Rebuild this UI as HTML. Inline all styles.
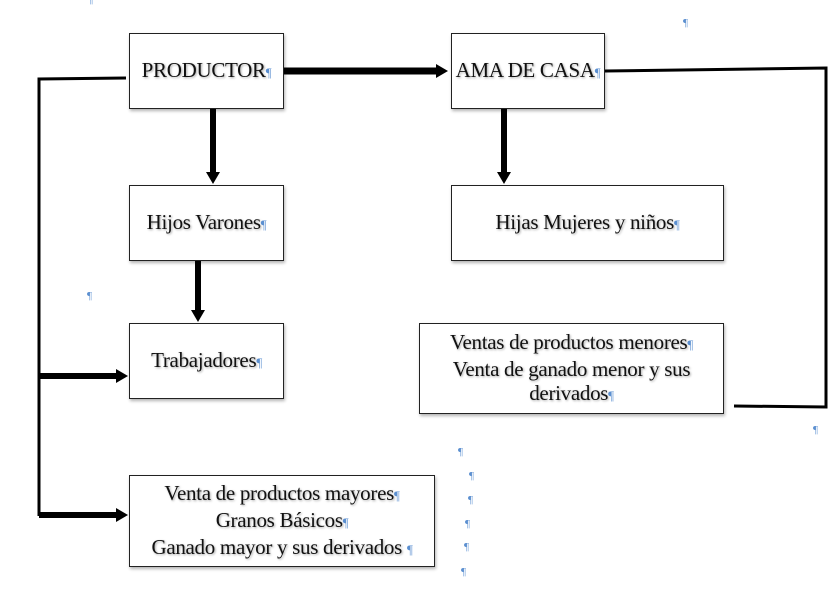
<!DOCTYPE html>
<html><head><meta charset="utf-8"><style>
body{margin:0;width:840px;height:589px;background:#fff;position:relative;overflow:hidden;font-family:"Liberation Serif",serif;}
.b{position:absolute;border:1.5px solid #222;box-sizing:border-box;box-shadow:1px 2px 3px rgba(0,0,0,.3);display:flex;align-items:center;justify-content:center;}
.t{text-align:center;font-size:21px;line-height:24px;color:#111;text-shadow:1px 1px 2px rgba(0,0,0,.35);letter-spacing:-0.3px;white-space:nowrap;}
.p{color:#5b8fd0;font-size:13px;text-shadow:none;}
.q{position:absolute;color:#5b8fd0;font-size:11px;}
svg{position:absolute;left:0;top:0;}
</style></head><body>
<svg width="840" height="589">
<defs><marker id="a" markerWidth="12" markerHeight="14" refX="4" refY="7" orient="auto" markerUnits="userSpaceOnUse"><path d="M0,0 L12,7 L0,14 z" fill="#000"/></marker></defs>
<g stroke="#000" fill="none">
<polyline points="126,78 39,79 39,516" stroke-width="3"/>
<line x1="283" y1="71" x2="440" y2="71" stroke-width="7" marker-end="url(#a)"/>
<polyline points="605,71 826,68 826,407 734,406" stroke-width="3"/>
<line x1="213" y1="108" x2="213" y2="176" stroke-width="6" marker-end="url(#a)"/>
<line x1="504" y1="108" x2="504" y2="176" stroke-width="6" marker-end="url(#a)"/>
<line x1="198" y1="261" x2="198" y2="314" stroke-width="6" marker-end="url(#a)"/>
<line x1="39" y1="376" x2="120" y2="376" stroke-width="6" marker-end="url(#a)"/>
<line x1="39" y1="515" x2="120" y2="515" stroke-width="6" marker-end="url(#a)"/>
</g></svg>
<div class="b" style="left:129px;top:33px;width:155px;height:76px"><div class="t">PRODUCTOR<span class="p">¶</span></div></div>
<div class="b" style="left:451px;top:33px;width:154px;height:76px"><div class="t">AMA DE CASA<span class="p">¶</span></div></div>
<div class="b" style="left:129px;top:185px;width:155px;height:76px"><div class="t">Hijos Varones<span class="p">¶</span></div></div>
<div class="b" style="left:451px;top:185px;width:273px;height:76px"><div class="t">Hijas Mujeres y niños<span class="p">¶</span></div></div>
<div class="b" style="left:129px;top:323px;width:155px;height:76px"><div class="t">Trabajadores<span class="p">¶</span></div></div>
<div class="b" style="left:419px;top:323px;width:305px;height:91px"><div class="t">Ventas de productos menores<span class="p">¶</span><br>Venta de ganado menor y sus<br>derivados<span class="p">¶</span></div></div>
<div class="b" style="left:129px;top:475px;width:306px;height:92px"><div class="t">Venta de productos mayores<span class="p">¶</span><br>Granos Básicos<span class="p">¶</span><br>Ganado mayor y sus derivados <span class="p">¶</span></div></div>
<span class="q" style="left:88px;top:-6px">¶</span>
<span class="q" style="left:683px;top:17px">¶</span>
<span class="q" style="left:87px;top:290px">¶</span>
<span class="q" style="left:813px;top:424px">¶</span>
<span class="q" style="left:458px;top:446px">¶</span>
<span class="q" style="left:469px;top:470px">¶</span>
<span class="q" style="left:468px;top:494px">¶</span>
<span class="q" style="left:465px;top:518px">¶</span>
<span class="q" style="left:464px;top:541px">¶</span>
<span class="q" style="left:461px;top:566px">¶</span>
</body></html>
